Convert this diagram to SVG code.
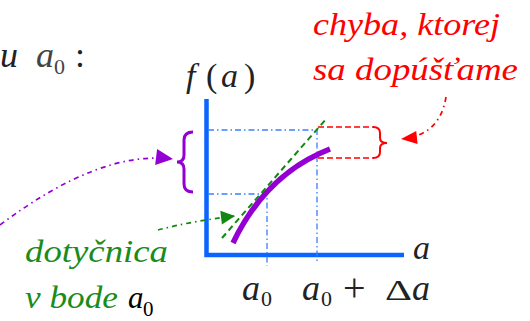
<svg xmlns="http://www.w3.org/2000/svg" width="530" height="321" viewBox="0 0 530 321">
<style>
.m{font-style:italic;fill:#222}
.u{font-style:normal;fill:#222}
.red{font-style:italic;fill:#ff0000;font-size:31px}
.grn{font-style:italic;fill:#1a8c1a;font-size:31px}
.guide{stroke:#3a7fff;stroke-width:1.3;fill:none;stroke-dasharray:6 3 1.5 3}
.axis{stroke:#0a64ff;stroke-width:4.5;fill:none}
.conn{stroke-width:1.7;fill:none;stroke-dasharray:5 4 1.5 4}
</style>
<defs>
<marker id="ap" markerUnits="userSpaceOnUse" markerWidth="20" markerHeight="20" refX="16" refY="0" orient="auto" overflow="visible">
<path d="M0,-8 L17,0 L0,8 Z" fill="#9400d3"/>
</marker>
<marker id="ag" markerUnits="userSpaceOnUse" markerWidth="20" markerHeight="20" refX="14" refY="0" orient="auto" overflow="visible">
<path d="M0,-7 L14,0 L0,7 Z" fill="#118811"/>
</marker>
<marker id="ar" markerUnits="userSpaceOnUse" markerWidth="20" markerHeight="20" refX="15" refY="0" orient="auto" overflow="visible">
<path d="M0,-6.5 L16,0 L0,6.5 Z" fill="#ff0000"/>
</marker>
</defs>
<g font-family="Liberation Serif, DejaVu Serif, serif">
<g id="title">
<text class="m" x="0" y="67" font-size="36">u</text>
<text class="m" x="36" y="67" font-size="36" style="fill:#444">a</text>
<text class="u" x="54" y="74" font-size="22" style="fill:#444">0</text>
<text class="u" x="75" y="67" font-size="36">:</text>
</g>

<g id="graph">
<path class="axis" d="M206.5,99 V255 H404"/>
<path class="guide" d="M208,130 H317 V264"/>
<path class="guide" d="M208,194 H267 V266"/>
<path d="M233,243 Q266,174 330,149" stroke="#9400d3" stroke-width="5.5" fill="none"/>
<path d="M222,238 L327,118" stroke="#118811" stroke-width="2" fill="none" stroke-dasharray="6 4"/>
<text class="m" x="186" y="87" font-size="34">f</text>
<text class="u" x="206" y="87" font-size="34">(</text>
<text class="m" x="221" y="87" font-size="34">a</text>
<text class="u" x="244" y="87" font-size="34">)</text>
<text class="m" x="413" y="259" font-size="34">a</text>
<text class="m" x="242" y="300" font-size="36">a</text>
<text class="u" x="261" y="306" font-size="22">0</text>
<text class="m" x="302" y="300" font-size="36">a</text>
<text class="u" x="321" y="306" font-size="22">0</text>
<text class="u" x="343" y="301" font-size="40">+</text>
<text class="u" x="385" y="300" font-size="30" textLength="27" lengthAdjust="spacingAndGlyphs">Δ</text>
<text class="m" x="412" y="300" font-size="36">a</text>
</g>

<g id="brace-left">
<path d="M193,132 Q184,132 184,140 L184,155 Q184,162 177,162 Q184,162 184,169 L184,184 Q184,192 193,192" stroke="#9400d3" stroke-width="3" fill="none"/>
</g>

<g id="error-box">
<path d="M318,127 H374 M318,158 H374" stroke="#ff0000" stroke-width="1.6" fill="none" stroke-dasharray="6 3"/>
<path d="M373,127 Q380,127 380,133 L380,138 Q380,143 387,143 Q380,143 380,148 L380,152 Q380,158 373,158" stroke="#ff0000" stroke-width="2" fill="none"/>
</g>

<g id="label-error">
<text class="red" x="313" y="35" textLength="187" lengthAdjust="spacingAndGlyphs">chyba, ktorej</text>
<text class="red" x="313" y="80" textLength="205" lengthAdjust="spacingAndGlyphs">sa dopúšťame</text>
</g>

<g id="label-tangent">
<text class="grn" x="25" y="262" textLength="143" lengthAdjust="spacingAndGlyphs">dotyčnica</text>
<text class="grn" x="25" y="308" textLength="93" lengthAdjust="spacingAndGlyphs">v bode</text>
<text class="m" x="128" y="308" font-size="31" style="fill:#000">a</text>
<text class="u" x="143" y="316" font-size="21" style="fill:#000">0</text>
</g>
</g>
<g id="connectors">
<path class="conn" d="M0,225 Q100,150 172,159" stroke="#9400d3" marker-end="url(#ap)"/>
<path class="conn" d="M158,230 Q192,221 235,216" stroke="#118811" marker-end="url(#ag)"/>
<path class="conn" d="M446,97 Q440,135 402,139" stroke="#ff0000" marker-end="url(#ar)"/>
</g>
</svg>
